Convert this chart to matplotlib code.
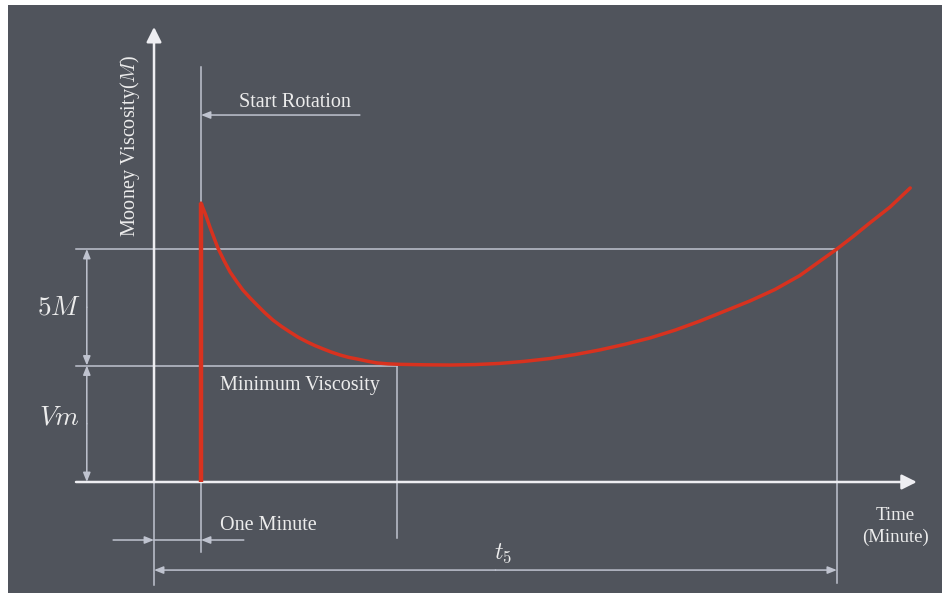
import matplotlib
matplotlib.use("Agg")
import matplotlib.pyplot as plt
from matplotlib.patches import Rectangle

plt.rcParams['font.family'] = ['Liberation Serif', 'DejaVu Serif']
plt.rcParams['mathtext.fontset'] = 'cm'

# ---- data (time in minutes, viscosity in Mooney units) ----
curve_t = [1.00, 1.10, 1.19, 1.36, 1.49, 1.62, 1.76, 1.89, 2.04, 2.19, 2.36, 2.53,
           2.71, 2.89, 3.07, 3.26, 3.43, 3.60, 3.78, 3.96, 4.14, 4.32, 4.53, 4.74,
           4.98, 5.23, 5.77, 6.30, 6.83, 7.36, 7.89, 8.43, 8.96, 9.49, 10.02, 10.55,
           11.09, 11.62, 12.15, 12.68, 13.21, 13.74, 14.53, 14.87, 15.23, 15.66, 16.09]
curve_v = [11.97, 11.46, 10.94, 10.04, 9.50, 9.01, 8.60, 8.24, 7.91, 7.60, 7.26, 6.95,
           6.68, 6.44, 6.21, 6.01, 5.85, 5.71, 5.57, 5.45, 5.35, 5.28, 5.19, 5.11,
           5.07, 5.05, 5.03, 5.02, 5.04, 5.09, 5.18, 5.30, 5.47, 5.67, 5.91, 6.18,
           6.52, 6.91, 7.34, 7.77, 8.26, 8.86, 10.00, 10.53, 11.12, 11.80, 12.62]
start_t = 1.0          # rotation starts after one minute
peak_v = 11.97
min_t = 5.17           # time of minimum viscosity
Vm = 5.0               # minimum viscosity
rise = 5.0             # 5 M rise
t5 = 14.53             # scorch time t5

labels = {
    'start': 'Start Rotation',
    'ylabel': 'Mooney Viscosity($M$)',
    'rise': '$5M$',
    'vm': '$Vm$',
    'min': 'Minimum Viscosity',
    'one': 'One Minute',
    't5': '$t_5$',
    'xlabel': 'Time\n(Minute)',
}

# ---- figure ----
fig = plt.figure(figsize=(9.42, 5.94), dpi=100, facecolor='white')
ax = fig.add_axes([0, 0, 1, 1])
ax.set_xlim(-3.277, 16.766)
ax.set_ylim(-4.807, 20.687)
ax.axis('off')

bg = '#50545c'
ax.add_patch(Rectangle((8/942, 0.002), 1 - 8/942, 1 - 0.002 - 5/594,
                       transform=ax.transAxes, facecolor=bg, edgecolor='none', zorder=0))

axis_c = '#eeeef2'
guide_c = '#bfc3cf'
text_c = '#ececec'
red = '#d8321f'

lw_axis = 1.8
lw_guide = 1.1

x_left = -1.66
x_arrow_end = 16.23
y_arrow_end = 19.53

# axes with arrowheads
ax.annotate('', xy=(x_arrow_end, 0), xytext=(x_left, 0),
            arrowprops=dict(arrowstyle='-|>,head_length=0.9,head_width=0.45', color=axis_c,
                            lw=lw_axis, shrinkA=0, shrinkB=0), zorder=3)
ax.annotate('', xy=(0, y_arrow_end), xytext=(0, 0),
            arrowprops=dict(arrowstyle='-|>,head_length=0.9,head_width=0.45', color=axis_c,
                            lw=lw_axis, shrinkA=0, shrinkB=0), zorder=3)
ax.plot([0, 0], [0, -4.42], color=guide_c, lw=lw_guide, zorder=2)

# guide lines
ax.plot([x_left, t5], [Vm + rise, Vm + rise], color=guide_c, lw=lw_guide, zorder=2)
ax.plot([x_left, min_t], [Vm, Vm], color=guide_c, lw=lw_guide, zorder=2)
ax.plot([min_t, min_t], [Vm, -2.40], color=guide_c, lw=lw_guide, zorder=2)
ax.plot([t5, t5], [Vm + rise, -4.33], color=guide_c, lw=lw_guide, zorder=2)
ax.plot([start_t, start_t], [17.81, -3.0], color=guide_c, lw=lw_guide, zorder=2)

small = dict(arrowstyle='-|>,head_length=0.55,head_width=0.22', color=guide_c,
             lw=lw_guide, shrinkA=0, shrinkB=0)

# start rotation arrow
ax.annotate('', xy=(start_t, 15.75), xytext=(4.38, 15.75), arrowprops=small, zorder=3)

# dimension arrows on the left
dim_x = -1.43
for y0, y1 in [(Vm, Vm + rise), (0, Vm)]:
    ax.annotate('', xy=(dim_x, y1), xytext=(dim_x, (y0 + y1) / 2), arrowprops=small, zorder=3)
    ax.annotate('', xy=(dim_x, y0), xytext=(dim_x, (y0 + y1) / 2), arrowprops=small, zorder=3)

# one minute arrows
y_one = -2.49
ax.plot([0, start_t], [y_one, y_one], color=guide_c, lw=lw_guide, zorder=2)
ax.annotate('', xy=(0, y_one), xytext=(-0.87, y_one), arrowprops=small, zorder=3)
ax.annotate('', xy=(start_t, y_one), xytext=(1.91, y_one), arrowprops=small, zorder=3)

# t5 arrow
y_t5 = -3.78
ax.annotate('', xy=(0, y_t5), xytext=(t5 / 2, y_t5), arrowprops=small, zorder=3)
ax.annotate('', xy=(t5, y_t5), xytext=(t5 / 2, y_t5), arrowprops=small, zorder=3)

# red curve
ax.plot([start_t, start_t], [0, peak_v], color=red, lw=3.2, solid_capstyle='butt', zorder=4)
ax.plot(curve_t, curve_v, color=red, lw=2.5, solid_joinstyle='round',
        solid_capstyle='round', zorder=4)

# texts
fs = 14.5
ax.text(1.81, 16.3, labels['start'], color=text_c, fontsize=fs, ha='left', va='center')
ax.text(-0.51, 14.42, labels['ylabel'], color=text_c, fontsize=fs, ha='center', va='center',
        rotation=90)
ax.text(-2.02, 7.47, labels['rise'], color=text_c, fontsize=19.5, ha='center', va='center')
ax.text(-2.02, 2.75, labels['vm'], color=text_c, fontsize=19.5, ha='center', va='center')
ax.text(1.40, 4.16, labels['min'], color=text_c, fontsize=fs, ha='left', va='center')
ax.text(1.40, -1.85, labels['one'], color=text_c, fontsize=fs, ha='left', va='center')
ax.text(7.43, -3.05, labels['t5'], color=text_c, fontsize=17, ha='center', va='center')
ax.text(15.77, -1.93, labels['xlabel'], color=text_c, fontsize=13.5, ha='center', va='center',
        linespacing=1.35)

fig.savefig('out.png', dpi=100, facecolor='white')
